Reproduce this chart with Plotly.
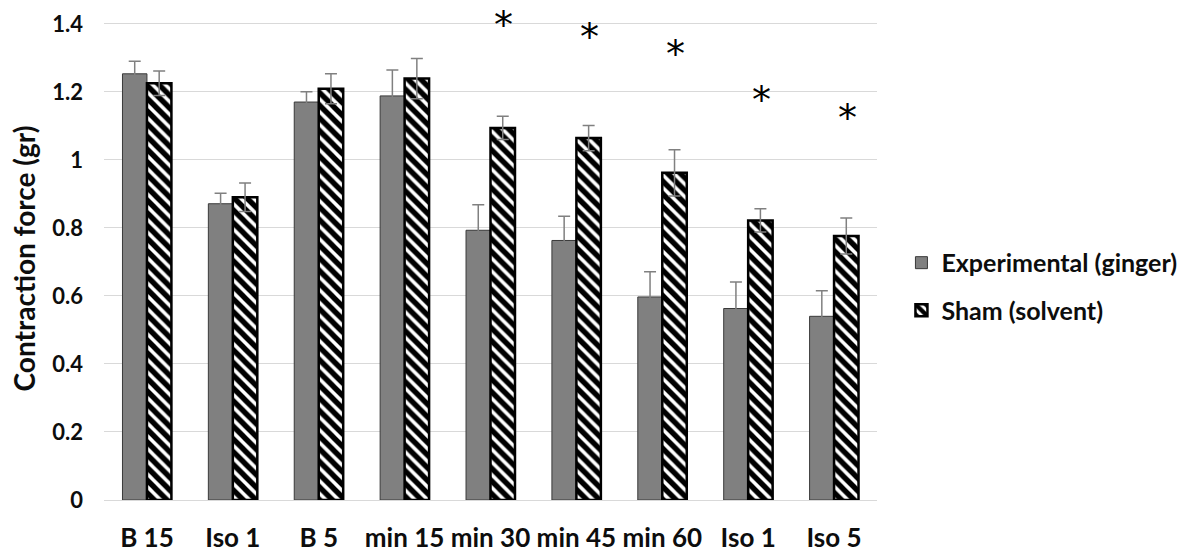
import plotly.graph_objects as go

labels = ["B 15", "Iso 1", "B 5", "min 15", "min 30", "min 45", "min 60", "Iso 1", "Iso 5"]
exp_vals = [1.253, 0.871, 1.170, 1.188, 0.793, 0.763, 0.597, 0.563, 0.540]
exp_err = [0.037, 0.031, 0.030, 0.076, 0.075, 0.071, 0.074, 0.078, 0.075]
sham_vals = [1.225, 0.890, 1.209, 1.239, 1.094, 1.064, 0.962, 0.822, 0.776]
sham_err = [0.036, 0.042, 0.044, 0.059, 0.034, 0.037, 0.068, 0.034, 0.053]
star_idx = [4, 5, 6, 7, 8]
star_y = [1.412, 1.377, 1.326, 1.190, 1.138]
y_ticks = [0, 0.2, 0.4, 0.6, 0.8, 1.0, 1.2, 1.4]
y_ticktext = ["0", "0.2", "0.4", "0.6", "0.8", "1", "1.2", "1.4"]

xpos = list(range(len(labels)))
FONT = "Lato"
TXT = "#0d0d0d"

fig = go.Figure()
fig.add_trace(go.Bar(
    x=xpos, y=exp_vals, name="Experimental (ginger)", legendgroup="exp",
    marker=dict(color="#808080", line=dict(color="#3a3a3a", width=1)),
    error_y=dict(type="data", array=exp_err, color="#808080", thickness=1.5, width=6),
))
fig.add_trace(go.Bar(
    x=xpos, y=sham_vals, name="Sham (solvent)", legendgroup="sham",
    marker=dict(color="white", line=dict(color="black", width=2.5),
                pattern=dict(shape="\\", fgcolor="black", bgcolor="white", fgopacity=1,
                             size=9, solidity=0.6)),
    error_y=dict(type="data", array=sham_err, color="#808080", thickness=1.5, width=6),
))

for i, yv in zip(star_idx, star_y):
    fig.add_annotation(x=i, y=yv, text="*", showarrow=False, xshift=13, yshift=-5,
                       font=dict(family="DejaVu Sans", size=38, color="black"))

fig.update_layout(
    width=1186, height=554,
    margin=dict(l=104, r=309, t=17, b=54, autoexpand=False),
    paper_bgcolor="white", plot_bgcolor="white",
    barmode="group", bargap=0.43, bargroupgap=0,
    font=dict(family=FONT, color=TXT),
    legend=dict(xref="container", yref="container", x=0.997, y=0.483,
                xanchor="right", yanchor="middle",
                font=dict(family=FONT, size=25, color=TXT, weight="bold"),
                tracegroupgap=12, traceorder="grouped", itemwidth=30),
    showlegend=True,
)
fig.update_xaxes(
    range=[-0.5, len(labels) - 0.5],
    tickmode="array", tickvals=xpos, ticktext=labels,
    tickfont=dict(family=FONT, size=26, weight="bold", color=TXT),
    showgrid=False, showline=False, ticks="", ticklabelstandoff=20, automargin=False,
)
fig.update_yaxes(
    range=[0, 1.42], tickmode="array", tickvals=y_ticks, ticktext=y_ticktext,
    tickfont=dict(family=FONT, size=22, weight="bold", color=TXT),
    showgrid=True, gridcolor="#d9d9d9", gridwidth=1,
    zeroline=True, zerolinecolor="#d9d9d9", zerolinewidth=1,
    showline=False, ticks="", ticklabelstandoff=20, automargin=False,
    title=dict(text="Contraction force (gr)", standoff=8,
               font=dict(family=FONT, size=28, weight="bold", color=TXT)),
)

fig.write_html("out.html")
